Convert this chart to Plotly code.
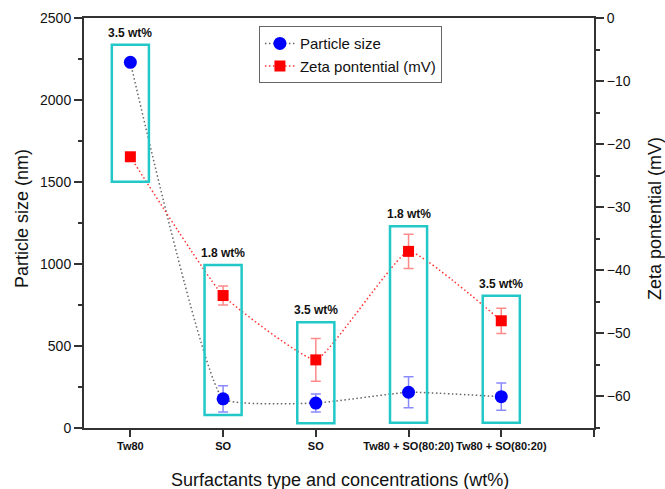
import plotly.graph_objects as go

categories = ["Tw80", "SO", "SO", "Tw80 + SO(80:20)", "Tw80 + SO(80:20)"]
x_pos = [0, 1, 2, 3, 4]
particle_size = [2230, 178, 152, 218, 191]
particle_err = [0, 80, 55, 95, 83]
zeta = [-22.0, -44.0, -54.2, -37.0, -48.0]
zeta_err = [0, 1.5, 3.4, 2.7, 2.0]
conc_labels = ["3.5 wt%", "1.8 wt%", "3.5 wt%", "1.8 wt%", "3.5 wt%"]
box_bottom = [1502, 79, 29, 32, 32]
box_top = [2337, 994, 645, 1230, 807]

x_title = "Surfactants type and concentrations (wt%)"
y_title = "Particle size (nm)"
y2_title = "Zeta pontential (mV)"

BOX_HALF = 0.2
FONT = "Liberation Sans, Arial, sans-serif"
AXC = "#333333"
L, R, T, B = 84, 71, 18, 61
W, H = 665, 489
PW, PH = W - L - R, H - T - B

fig = go.Figure()

fig.add_trace(go.Scatter(
    x=x_pos, y=particle_size, name="Particle size",
    mode="lines+markers", line=dict(color="#666666", dash="1.5px,2.5px", width=1.5, shape="spline", smoothing=0.35),
    marker=dict(symbol="circle", size=13, color="#0000FF"),
    error_y=dict(type="data", array=particle_err, color="rgba(60,60,255,0.6)", thickness=1.5, width=5),
    yaxis="y",
))
fig.add_trace(go.Scatter(
    x=x_pos, y=zeta, name="Zeta pontential (mV)",
    mode="lines+markers", line=dict(color="#FF3333", dash="1.5px,2.5px", width=1.5, shape="spline", smoothing=0.35),
    marker=dict(symbol="square", size=11, color="#FF0000"),
    error_y=dict(type="data", array=zeta_err, color="rgba(255,60,60,0.6)", thickness=1.5, width=5),
    yaxis="y2",
))

for xi, b0, b1, lab in zip(x_pos, box_bottom, box_top, conc_labels):
    fig.add_shape(type="rect", xref="x", yref="y", x0=xi - BOX_HALF, x1=xi + BOX_HALF,
                  y0=b0, y1=b1, line=dict(color="#22C8C8", width=2.5), fillcolor="rgba(0,0,0,0)")
    fig.add_annotation(x=xi, y=b1, xref="x", yref="y", text="<b>" + lab + "</b>",
                       showarrow=False, yanchor="bottom", yshift=3,
                       font=dict(family=FONT, size=12, color="#111111"))

# axis titles
fig.add_annotation(x=(340 - L) / PW, y=(H - B - 480) / PH, xref="paper", yref="paper",
                   text=x_title, showarrow=False, xanchor="center", yanchor="middle",
                   font=dict(family=FONT, size=18, color="#111111"))
fig.add_annotation(x=(22 - L) / PW, y=(H - B - 219) / PH, xref="paper", yref="paper",
                   text=y_title, showarrow=False, textangle=-90, xanchor="center", yanchor="middle",
                   font=dict(family=FONT, size=18, color="#111111"))
fig.add_annotation(x=(655 - L) / PW, y=(H - B - 219) / PH, xref="paper", yref="paper",
                   text=y2_title, showarrow=False, textangle=-90, xanchor="center", yanchor="middle",
                   font=dict(family=FONT, size=18, color="#111111"))

fig.update_layout(
    width=W, height=H,
    margin=dict(l=L, r=R, t=T, b=B),
    paper_bgcolor="white", plot_bgcolor="white",
    font=dict(family=FONT, size=14, color="#111111"),
    showlegend=True,
    legend=dict(x=0.343, y=0.98, xanchor="left", yanchor="top",
                bordercolor="#666666", borderwidth=1, bgcolor="white",
                font=dict(family=FONT, size=15), tracegroupgap=0, itemwidth=30),
    xaxis=dict(range=[-0.5, 5], tickmode="array", tickvals=x_pos + [5],
               ticktext=["<b>" + c + "</b>" for c in categories] + [""],
               tickfont=dict(family=FONT, size=11), tickangle=0,
               showline=True, linecolor=AXC, linewidth=2, mirror=True,
               ticks="outside", ticklen=7, tickwidth=2, tickcolor=AXC,
               showgrid=False, zeroline=False, automargin=False),
    yaxis=dict(range=[0, 2500], dtick=500, showline=True, linecolor=AXC, linewidth=2,
               ticks="outside", ticklen=8, tickwidth=2, tickcolor=AXC,
               minor=dict(ticks="outside", ticklen=4, dtick=250, tickcolor=AXC, tickwidth=2),
               showgrid=False, zeroline=False, automargin=False),
    yaxis2=dict(range=[-65, 0], dtick=10, overlaying="y", side="right",
                showline=True, linecolor=AXC, linewidth=2,
                ticks="outside", ticklen=8, tickwidth=2, tickcolor=AXC,
                minor=dict(ticks="outside", ticklen=4, dtick=5, tickcolor=AXC, tickwidth=2),
                showgrid=False, zeroline=False, automargin=False),
)

fig.write_html("out.html")
